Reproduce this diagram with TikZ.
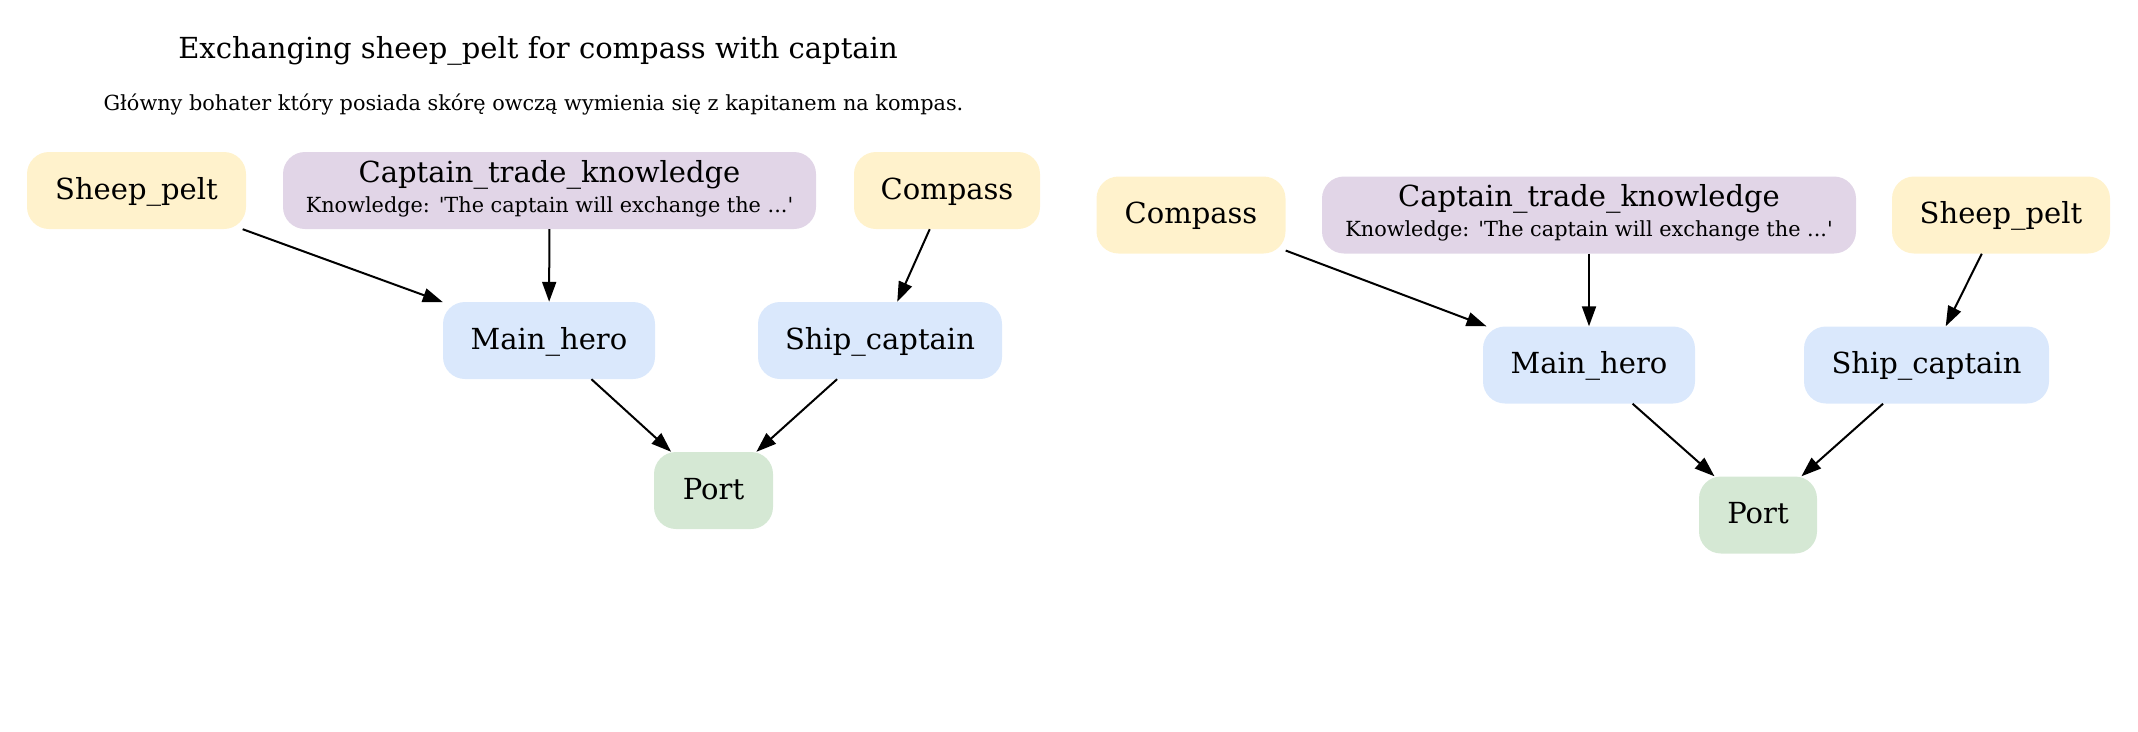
\documentclass[tikz,border=0pt]{standalone}
\usepackage{fontspec}
\setmainfont{DejaVu Serif}
\usetikzlibrary{arrows.meta}
\definecolor{cyellow}{HTML}{FFF2CC}
\definecolor{cpurple}{HTML}{E1D5E7}
\definecolor{cblue}{HTML}{DAE8FC}
\definecolor{cgreen}{HTML}{D5E8D4}
\tikzset{
  box/.style={rectangle, rounded corners=22pt, minimum height=77pt, inner sep=0pt,
    text height=22pt, text depth=5pt, font=\fontsize{29}{34}\selectfont},
  item/.style={box, fill=cyellow},
  know/.style={box, fill=cpurple},
  agent/.style={box, fill=cblue},
  place/.style={box, fill=cgreen},
  edge/.style={line width=2pt, -{Triangle[length=20pt,width=14pt]}},
  big/.style={font=\fontsize{29}{34}\selectfont, inner sep=0pt, anchor=base},
  small/.style={font=\fontsize{20.8}{24}\selectfont, inner sep=0pt, anchor=base},
}
\begin{document}
\begin{tikzpicture}[x=1pt, y=-1pt]
\useasboundingbox (0,0) rectangle (2138,731);
% title
\node[big] (title) at (538,58) {Exchanging sheep\_pelt for compass with captain};
\node[small] (subtitle) at (533.5,110) {Główny bohater który posiada skórę owczą wymienia się z kapitanem na kompas.};
% left graph
\node[item, minimum width=219pt] (Lsheep) at (136.5,190.5) {Sheep\_pelt};
\node[know, minimum width=533pt] (Lctk) at (549.5,190.5) {};
\node[big] (Lctkt) at ([yshift=8.5pt]Lctk.center) {Captain\_trade\_knowledge};
\node[small] (Lctks) at ([yshift=-21.5pt]Lctk.center) {Knowledge: \textquotesingle The captain will exchange the ...\textquotesingle};
\node[item, minimum width=186pt] (Lcompass) at (947,190.5) {Compass};
\node[agent, minimum width=212pt] (Lmain) at (549,340.5) {Main\_hero};
\node[agent, minimum width=244pt] (Lship) at (880,340.5) {Ship\_captain};
\node[place, minimum width=119pt] (Lport) at (713.5,490.5) {Port};
\draw[edge] (Lsheep) -- (Lmain);
\draw[edge] (Lctk) -- (Lmain);
\draw[edge] (Lcompass) -- (Lship);
\draw[edge] (Lmain) -- (Lport);
\draw[edge] (Lship) -- (Lport);
% right graph
\node[item, minimum width=189pt] (Rcompass) at (1191,215) {Compass};
\node[know, minimum width=534pt] (Rctk) at (1589,215) {};
\node[big] (Rctkt) at ([yshift=8.5pt]Rctk.center) {Captain\_trade\_knowledge};
\node[small] (Rctks) at ([yshift=-21.5pt]Rctk.center) {Knowledge: \textquotesingle The captain will exchange the ...\textquotesingle};
\node[item, minimum width=218pt] (Rsheep) at (2001,215) {Sheep\_pelt};
\node[agent, minimum width=212pt] (Rmain) at (1589,365) {Main\_hero};
\node[agent, minimum width=245pt] (Rship) at (1926.5,365) {Ship\_captain};
\node[place, minimum width=118pt] (Rport) at (1758,515) {Port};
\draw[edge] (Rcompass) -- (Rmain);
\draw[edge] (Rctk) -- (Rmain);
\draw[edge] (Rsheep) -- (Rship);
\draw[edge] (Rmain) -- (Rport);
\draw[edge] (Rship) -- (Rport);
\end{tikzpicture}
\end{document}
